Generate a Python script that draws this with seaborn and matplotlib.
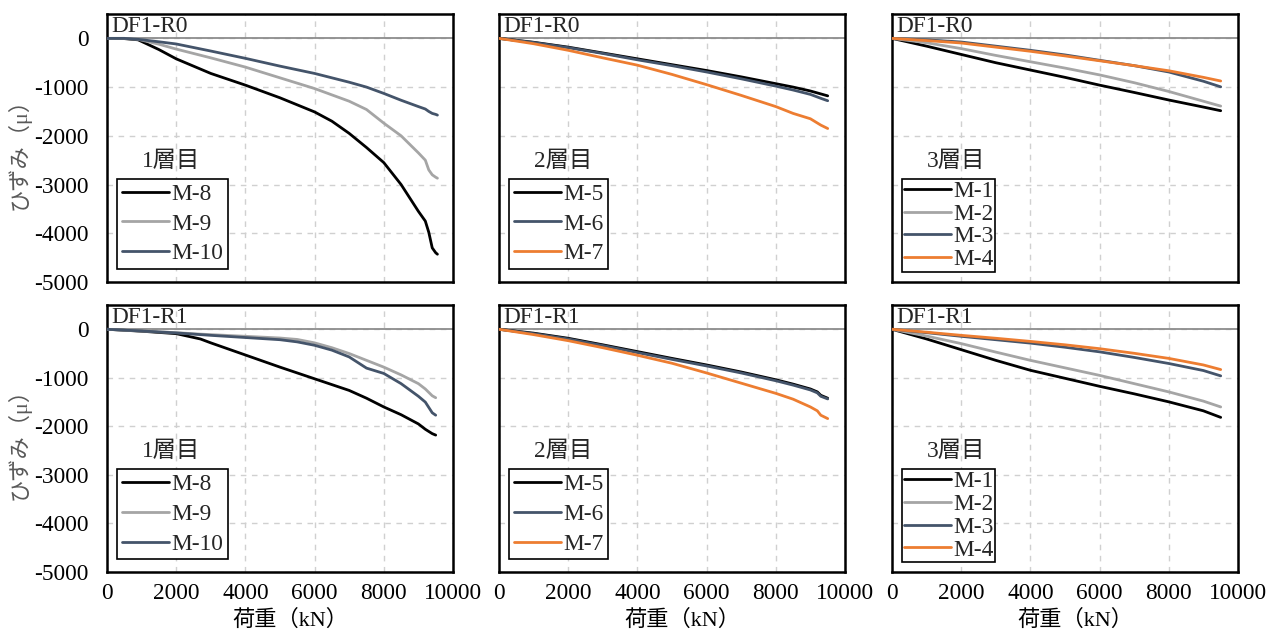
import matplotlib
matplotlib.use("Agg")
import matplotlib.pyplot as plt
import matplotlib.transforms as mtransforms
import seaborn as sns
import pandas as pd

sns.set_style("white")
plt.rcParams['font.family'] = ['Liberation Serif', 'Noto Sans CJK JP', 'DejaVu Sans']
plt.rcParams['axes.unicode_minus'] = False

# ---------------- data ----------------
x_r0_1 = [0, 500, 900, 1500, 2000, 3000, 4000, 5000, 6000, 6500, 7000, 7500, 8000, 8500, 9000, 9200, 9300, 9400, 9500, 9550]
m8_r0 = [0, -5, -30, -230, -420, -720, -960, -1220, -1510, -1700, -1950, -2240, -2550, -3000, -3550, -3750, -3980, -4300, -4400, -4430]
m9_r0 = [0, 0, -20, -120, -220, -400, -590, -810, -1030, -1160, -1290, -1460, -1740, -2000, -2350, -2500, -2700, -2800, -2850, -2870]
m10_r0 = [0, 0, -20, -70, -115, -260, -410, -570, -720, -810, -900, -1000, -1130, -1270, -1400, -1450, -1500, -1540, -1560, -1575]

x_r0_2 = [0, 1000, 2000, 3000, 4000, 5000, 6000, 7000, 8000, 8500, 9000, 9300, 9500]
m5_r0 = [0, -80, -180, -300, -420, -540, -660, -790, -930, -1000, -1080, -1140, -1180]
m6_r0 = [0, -85, -190, -310, -440, -560, -690, -830, -980, -1060, -1150, -1230, -1280]
m7_r0 = [0, -110, -245, -400, -550, -740, -950, -1170, -1400, -1540, -1650, -1780, -1850]

x_r0_3 = [0, 1000, 2000, 3000, 4000, 5000, 6000, 7000, 8000, 9000, 9500]
m1_r0 = [0, -160, -330, -500, -650, -800, -960, -1110, -1265, -1410, -1485]
m2_r0 = [0, -90, -210, -350, -480, -610, -750, -910, -1090, -1290, -1390]
m3_r0 = [0, -30, -75, -160, -245, -340, -450, -560, -690, -880, -995]
m4_r0 = [0, -45, -95, -180, -265, -360, -460, -560, -665, -800, -875]

x_r1_1 = [0, 1000, 2000, 2700, 3000, 4000, 5000, 5500, 6000, 6500, 7000, 7500, 8000, 8500, 9000, 9200, 9400, 9500]
m8_r1 = [0, -40, -90, -200, -280, -530, -780, -900, -1020, -1140, -1260, -1420, -1600, -1760, -1950, -2060, -2150, -2180]
m9_r1 = [0, -35, -70, -100, -110, -145, -180, -210, -280, -380, -500, -640, -780, -940, -1120, -1230, -1370, -1410]
m10_r1 = [0, -35, -75, -110, -125, -170, -215, -260, -330, -430, -570, -800, -910, -1120, -1380, -1500, -1720, -1770]

x_r1_2 = [0, 1000, 2000, 3000, 4000, 5000, 6000, 7000, 8000, 8500, 9000, 9200, 9300, 9500]
m5_r1 = [0, -80, -185, -320, -460, -600, -735, -880, -1040, -1130, -1230, -1290, -1360, -1420]
m6_r1 = [0, -90, -200, -335, -480, -620, -755, -900, -1060, -1150, -1250, -1310, -1380, -1435]
m7_r1 = [0, -110, -235, -380, -535, -700, -900, -1110, -1320, -1440, -1600, -1680, -1770, -1840]

x_r1_3 = [0, 1000, 2000, 3000, 4000, 5000, 6000, 7000, 8000, 9000, 9500]
m1_r1 = [0, -200, -420, -640, -845, -1010, -1175, -1330, -1495, -1680, -1815]
m2_r1 = [0, -140, -295, -470, -640, -795, -950, -1120, -1290, -1480, -1600]
m3_r1 = [0, -70, -145, -215, -285, -370, -465, -580, -705, -850, -960]
m4_r1 = [0, -60, -125, -185, -250, -320, -400, -495, -600, -735, -830]

x_ticks = [0, 2000, 4000, 6000, 8000, 10000]
y_ticks = [0, -1000, -2000, -3000, -4000, -5000]
y_tick_labels = ["0", "-1000", "-2000", "-3000", "-4000", "-5000"]
x_tick_labels = ["0", "2000", "4000", "6000", "8000", "10000"]

C_BLACK = "#000000"
C_GRAY = "#A5A5A5"
C_BLUE = "#44546A"
C_ORANGE = "#ED7D31"

panels = [
    # row, col, case, floor, x, series
    (0, 0, "DF1-R0", "1層目", x_r0_1, [("M-8", m8_r0, C_BLACK), ("M-9", m9_r0, C_GRAY), ("M-10", m10_r0, C_BLUE)]),
    (0, 1, "DF1-R0", "2層目", x_r0_2, [("M-5", m5_r0, C_BLACK), ("M-6", m6_r0, C_BLUE), ("M-7", m7_r0, C_ORANGE)]),
    (0, 2, "DF1-R0", "3層目", x_r0_3, [("M-1", m1_r0, C_BLACK), ("M-2", m2_r0, C_GRAY), ("M-3", m3_r0, C_BLUE), ("M-4", m4_r0, C_ORANGE)]),
    (1, 0, "DF1-R1", "1層目", x_r1_1, [("M-8", m8_r1, C_BLACK), ("M-9", m9_r1, C_GRAY), ("M-10", m10_r1, C_BLUE)]),
    (1, 1, "DF1-R1", "2層目", x_r1_2, [("M-5", m5_r1, C_BLACK), ("M-6", m6_r1, C_BLUE), ("M-7", m7_r1, C_ORANGE)]),
    (1, 2, "DF1-R1", "3層目", x_r1_3, [("M-1", m1_r1, C_BLACK), ("M-2", m2_r1, C_GRAY), ("M-3", m3_r1, C_BLUE), ("M-4", m4_r1, C_ORANGE)]),
]

W, H = 1280, 630
fig = plt.figure(figsize=(W / 100, H / 100), dpi=100)

col_left = [107, 499, 892]
col_w = 346
row_top = [14, 305]
row_h = [268, 267]

FS = 16.8

for r, c, case, floor, xs, series in panels:
    left = col_left[c]
    top = row_top[r]
    ax = fig.add_axes([left / W, (H - top - row_h[r]) / H, col_w / W, row_h[r] / H])
    for name, ys, col in series:
        df = pd.DataFrame({"x": xs, "y": ys})
        sns.lineplot(data=df, x="x", y="y", ax=ax, color=col, lw=2.0, label=name,
                     sort=False, estimator=None, zorder=3)
    ax.set_xlim(0, 10000)
    ax.set_ylim(-5000, 500)
    ax.set_xticks(x_ticks)
    ax.set_yticks(y_ticks)
    ax.grid(True, color="#D0D0D0", lw=1.0, ls=(0, (4, 4)))
    ax.axhline(0, color="#8C8C8C", lw=1.3, zorder=2)
    for s in ax.spines.values():
        s.set_color("black")
        s.set_linewidth(1.8)
    ax.tick_params(axis="both", length=0, labelsize=FS, colors="black")
    ax.tick_params(axis="y", pad=13)
    ax.tick_params(axis="x", pad=8)
    if c == 0:
        ax.set_yticklabels(y_tick_labels)
        ax.set_ylabel("ひずみ（μ）", fontsize=16, color="#595959")
        ax.yaxis.set_label_coords(-0.22, 0.5)
    else:
        ax.set_yticklabels([])
        ax.set_ylabel("")
    if r == 1:
        ax.set_xticklabels(x_tick_labels)
        ax.set_xlabel("荷重（kN）", fontsize=16, color="black")
        ax.xaxis.set_label_coords(0.53, -0.14)
    else:
        ax.set_xticklabels([])
        ax.set_xlabel("")
    trans = mtransforms.blended_transform_factory(ax.transAxes, ax.transData)
    ax.text(0.012, 30, case, transform=trans, ha="left", va="bottom", fontsize=FS, zorder=5)
    ax.text(0.185, 0.45, floor, transform=ax.transAxes, ha="center", va="center", fontsize=FS)
    n = len(series)
    if n == 3:
        lsp, bpad = 0.36, 0.2
    else:
        lsp, bpad = 0.06, 0.08
    leg = ax.legend(loc="upper left", bbox_to_anchor=(0.03, 0.385), borderaxespad=0,
                    fontsize=FS, frameon=True, fancybox=False, framealpha=1,
                    edgecolor="black", handlelength=2.0, handletextpad=0.1,
                    labelspacing=lsp, borderpad=bpad)
    leg.get_frame().set_linewidth(1.2)

fig.savefig("out.png", dpi=100)
